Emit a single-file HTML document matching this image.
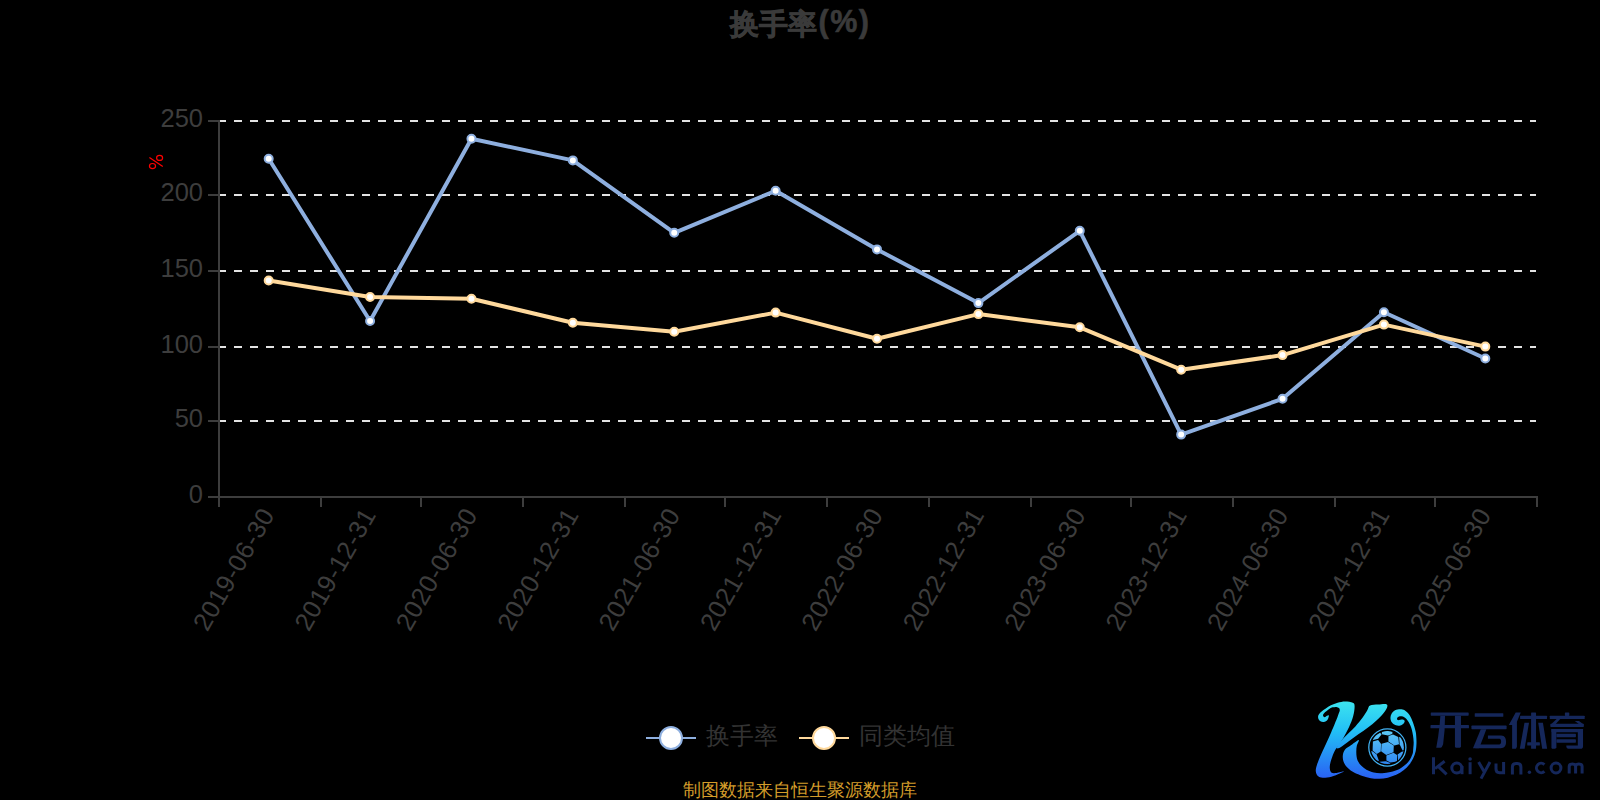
<!DOCTYPE html>
<html><head><meta charset="utf-8"><style>
html,body{margin:0;padding:0;background:#000;width:1600px;height:800px;overflow:hidden}
svg{display:block}
text{font-family:"Liberation Sans",sans-serif}
.yl{font-size:25.5px;fill:#3d3d3d;text-anchor:end;dominant-baseline:middle}
.xl{font-size:25.5px;letter-spacing:0.6px;fill:#3d3d3d;text-anchor:end;dominant-baseline:middle}
.lg{font-size:24px;fill:#333}
.tt{font-size:30.5px;font-weight:bold;fill:#3a3a3a;stroke:#3a3a3a;stroke-width:0.6px;text-anchor:middle}
.ft{font-size:18px;fill:#d39c2a;text-anchor:middle}
</style></head><body>
<svg width="1600" height="800" viewBox="0 0 1600 800">
<rect width="1600" height="800" fill="#000"/>
<line x1="218" y1="121" x2="1536" y2="121" stroke="#e3e3e3" stroke-width="2" stroke-dasharray="8 8"/>
<line x1="218" y1="195" x2="1536" y2="195" stroke="#e3e3e3" stroke-width="2" stroke-dasharray="8 8"/>
<line x1="218" y1="271" x2="1536" y2="271" stroke="#e3e3e3" stroke-width="2" stroke-dasharray="8 8"/>
<line x1="218" y1="347" x2="1536" y2="347" stroke="#e3e3e3" stroke-width="2" stroke-dasharray="8 8"/>
<line x1="218" y1="421" x2="1536" y2="421" stroke="#e3e3e3" stroke-width="2" stroke-dasharray="8 8"/>
<line x1="219" y1="120" x2="219" y2="498" stroke="#3d3d3d" stroke-width="2"/>
<line x1="208" y1="121" x2="219" y2="121" stroke="#3d3d3d" stroke-width="2"/>
<line x1="208" y1="195" x2="219" y2="195" stroke="#3d3d3d" stroke-width="2"/>
<line x1="208" y1="271" x2="219" y2="271" stroke="#3d3d3d" stroke-width="2"/>
<line x1="208" y1="347" x2="219" y2="347" stroke="#3d3d3d" stroke-width="2"/>
<line x1="208" y1="421" x2="219" y2="421" stroke="#3d3d3d" stroke-width="2"/>
<line x1="208" y1="497" x2="219" y2="497" stroke="#3d3d3d" stroke-width="2"/>
<line x1="218" y1="497" x2="1538" y2="497" stroke="#3d3d3d" stroke-width="2"/>
<line x1="219" y1="497" x2="219" y2="507" stroke="#3d3d3d" stroke-width="2"/>
<line x1="321" y1="497" x2="321" y2="507" stroke="#3d3d3d" stroke-width="2"/>
<line x1="421" y1="497" x2="421" y2="507" stroke="#3d3d3d" stroke-width="2"/>
<line x1="523" y1="497" x2="523" y2="507" stroke="#3d3d3d" stroke-width="2"/>
<line x1="625" y1="497" x2="625" y2="507" stroke="#3d3d3d" stroke-width="2"/>
<line x1="725" y1="497" x2="725" y2="507" stroke="#3d3d3d" stroke-width="2"/>
<line x1="827" y1="497" x2="827" y2="507" stroke="#3d3d3d" stroke-width="2"/>
<line x1="929" y1="497" x2="929" y2="507" stroke="#3d3d3d" stroke-width="2"/>
<line x1="1031" y1="497" x2="1031" y2="507" stroke="#3d3d3d" stroke-width="2"/>
<line x1="1131" y1="497" x2="1131" y2="507" stroke="#3d3d3d" stroke-width="2"/>
<line x1="1233" y1="497" x2="1233" y2="507" stroke="#3d3d3d" stroke-width="2"/>
<line x1="1335" y1="497" x2="1335" y2="507" stroke="#3d3d3d" stroke-width="2"/>
<line x1="1435" y1="497" x2="1435" y2="507" stroke="#3d3d3d" stroke-width="2"/>
<line x1="1537" y1="497" x2="1537" y2="507" stroke="#3d3d3d" stroke-width="2"/>
<text x="203" y="120" class="yl">250</text>
<text x="203" y="194" class="yl">200</text>
<text x="203" y="270" class="yl">150</text>
<text x="203" y="346" class="yl">100</text>
<text x="203" y="420" class="yl">50</text>
<text x="203" y="496" class="yl">0</text>
<g stroke="#f00" stroke-width="1.2" fill="none"><ellipse cx="159.6" cy="157.9" rx="3" ry="2.5"/><ellipse cx="152.5" cy="166.05" rx="3.05" ry="2.55"/><line x1="149.4" y1="157.5" x2="162.8" y2="166.6"/></g>
<text class="xl" transform="translate(269.69 511) rotate(-60)">2019-06-30</text>
<text class="xl" transform="translate(371.08 511) rotate(-60)">2019-12-31</text>
<text class="xl" transform="translate(472.46 511) rotate(-60)">2020-06-30</text>
<text class="xl" transform="translate(573.85 511) rotate(-60)">2020-12-31</text>
<text class="xl" transform="translate(675.23 511) rotate(-60)">2021-06-30</text>
<text class="xl" transform="translate(776.62 511) rotate(-60)">2021-12-31</text>
<text class="xl" transform="translate(878 511) rotate(-60)">2022-06-30</text>
<text class="xl" transform="translate(979.38 511) rotate(-60)">2022-12-31</text>
<text class="xl" transform="translate(1080.77 511) rotate(-60)">2023-06-30</text>
<text class="xl" transform="translate(1182.15 511) rotate(-60)">2023-12-31</text>
<text class="xl" transform="translate(1283.54 511) rotate(-60)">2024-06-30</text>
<text class="xl" transform="translate(1384.92 511) rotate(-60)">2024-12-31</text>
<text class="xl" transform="translate(1486.31 511) rotate(-60)">2025-06-30</text>
<polyline points="268.69,158.75 370.08,321 471.46,138.7 572.85,160.4 674.23,232.8 775.62,190.8 877,249.4 978.38,303.1 1079.77,230.8 1181.15,434.6 1282.54,398.8 1383.92,312.3 1485.31,358.5" fill="none" stroke="#8eafdf" stroke-width="4" stroke-linejoin="round"/><circle cx="268.69" cy="158.75" r="4" fill="#fff" stroke="#8eafdf" stroke-width="2"/><circle cx="370.08" cy="321" r="4" fill="#fff" stroke="#8eafdf" stroke-width="2"/><circle cx="471.46" cy="138.7" r="4" fill="#fff" stroke="#8eafdf" stroke-width="2"/><circle cx="572.85" cy="160.4" r="4" fill="#fff" stroke="#8eafdf" stroke-width="2"/><circle cx="674.23" cy="232.8" r="4" fill="#fff" stroke="#8eafdf" stroke-width="2"/><circle cx="775.62" cy="190.8" r="4" fill="#fff" stroke="#8eafdf" stroke-width="2"/><circle cx="877" cy="249.4" r="4" fill="#fff" stroke="#8eafdf" stroke-width="2"/><circle cx="978.38" cy="303.1" r="4" fill="#fff" stroke="#8eafdf" stroke-width="2"/><circle cx="1079.77" cy="230.8" r="4" fill="#fff" stroke="#8eafdf" stroke-width="2"/><circle cx="1181.15" cy="434.6" r="4" fill="#fff" stroke="#8eafdf" stroke-width="2"/><circle cx="1282.54" cy="398.8" r="4" fill="#fff" stroke="#8eafdf" stroke-width="2"/><circle cx="1383.92" cy="312.3" r="4" fill="#fff" stroke="#8eafdf" stroke-width="2"/><circle cx="1485.31" cy="358.5" r="4" fill="#fff" stroke="#8eafdf" stroke-width="2"/>
<polyline points="268.69,280.5 370.08,297 471.46,298.8 572.85,322.7 674.23,331.8 775.62,312.6 877,338.8 978.38,314.1 1079.77,327.3 1181.15,369.7 1282.54,355.1 1383.92,324.6 1485.31,346.6" fill="none" stroke="#ffd99c" stroke-width="4" stroke-linejoin="round"/><circle cx="268.69" cy="280.5" r="4" fill="#fff" stroke="#ffd99c" stroke-width="2"/><circle cx="370.08" cy="297" r="4" fill="#fff" stroke="#ffd99c" stroke-width="2"/><circle cx="471.46" cy="298.8" r="4" fill="#fff" stroke="#ffd99c" stroke-width="2"/><circle cx="572.85" cy="322.7" r="4" fill="#fff" stroke="#ffd99c" stroke-width="2"/><circle cx="674.23" cy="331.8" r="4" fill="#fff" stroke="#ffd99c" stroke-width="2"/><circle cx="775.62" cy="312.6" r="4" fill="#fff" stroke="#ffd99c" stroke-width="2"/><circle cx="877" cy="338.8" r="4" fill="#fff" stroke="#ffd99c" stroke-width="2"/><circle cx="978.38" cy="314.1" r="4" fill="#fff" stroke="#ffd99c" stroke-width="2"/><circle cx="1079.77" cy="327.3" r="4" fill="#fff" stroke="#ffd99c" stroke-width="2"/><circle cx="1181.15" cy="369.7" r="4" fill="#fff" stroke="#ffd99c" stroke-width="2"/><circle cx="1282.54" cy="355.1" r="4" fill="#fff" stroke="#ffd99c" stroke-width="2"/><circle cx="1383.92" cy="324.6" r="4" fill="#fff" stroke="#ffd99c" stroke-width="2"/><circle cx="1485.31" cy="346.6" r="4" fill="#fff" stroke="#ffd99c" stroke-width="2"/>
<line x1="646" y1="738" x2="696" y2="738" stroke="#8eafdf" stroke-width="2"/><circle cx="671" cy="738" r="11" fill="#fff" stroke="#8eafdf" stroke-width="2"/>
<text x="706" y="743.5" class="lg">换手率</text>
<line x1="799" y1="738" x2="849" y2="738" stroke="#ffd99c" stroke-width="2"/><circle cx="824" cy="738" r="11" fill="#fff" stroke="#ffd99c" stroke-width="2"/>
<text x="859" y="743.5" class="lg">同类均值</text>
<text x="800.5" y="33.5" class="tt"><tspan style="font-size:29px">换手率</tspan><tspan dy="-1.5" dx="1" style="letter-spacing:1.6px">(%)</tspan></text>
<text x="800" y="796" class="ft">制图数据来自恒生聚源数据库</text>

<defs>
<linearGradient id="kg" gradientUnits="userSpaceOnUse" x1="0" y1="40" x2="0" y2="750">
<stop offset="0" stop-color="#3ee6ee"/>
<stop offset="0.4" stop-color="#22bff6"/>
<stop offset="1" stop-color="#2a5ff3"/>
</linearGradient>
<linearGradient id="bgr" x1="0" y1="0" x2="0" y2="1">
<stop offset="0" stop-color="#62cbf7"/>
<stop offset="1" stop-color="#3287f2"/>
</linearGradient>
<clipPath id="ballclip"><circle cx="732.1" cy="466.7" r="147"/></clipPath>
<linearGradient id="bgr2" gradientUnits="userSpaceOnUse" x1="0" y1="316.7" x2="0" y2="616.7"><stop offset="0" stop-color="#5ccaf6"/><stop offset="1" stop-color="#2f86f3"/></linearGradient>
</defs>
<g transform="translate(1305 695) scale(0.11249)">
<path fill="url(#kg)" d="M441.0,102.0 C440.5,82.0 439.2,77.3 425.0,70.0 C410.8,62.7 378.5,58.0 356.0,58.0 C333.5,58.0 311.0,64.3 290.0,70.0 C269.0,75.7 247.5,83.7 230.0,92.0 C212.5,100.3 199.2,110.7 185.0,120.0 C170.8,129.3 156.0,138.0 145.0,148.0 C134.0,158.0 123.3,169.3 119.0,180.0 C114.7,190.7 116.0,203.0 119.0,212.0 C122.0,221.0 129.7,229.2 137.0,234.0 C144.3,238.8 154.2,241.5 163.0,241.0 C171.8,240.5 182.8,236.5 190.0,231.0 C197.2,225.5 202.3,216.2 206.0,208.0 C209.7,199.8 213.7,186.0 212.0,182.0 C210.3,178.0 202.0,181.5 196.0,184.0 C190.0,186.5 181.7,196.0 176.0,197.0 C170.3,198.0 164.2,194.2 162.0,190.0 C159.8,185.8 160.0,178.3 163.0,172.0 C166.0,165.7 171.8,159.5 180.0,152.0 C188.2,144.5 201.2,134.0 212.0,127.0 C222.8,120.0 233.8,113.5 245.0,110.0 C256.2,106.5 269.5,105.0 279.0,106.0 C288.5,107.0 297.0,110.8 302.0,116.0 C307.0,121.2 310.2,126.8 309.0,137.0 C307.8,147.2 299.7,163.8 295.0,177.0 C290.3,190.2 291.2,190.7 281.0,216.0 C270.8,241.3 249.7,292.8 234.0,329.0 C218.3,365.2 202.8,398.3 187.0,433.0 C171.2,467.7 152.5,505.5 139.0,537.0 C125.5,568.5 113.2,598.5 106.0,622.0 C98.8,645.5 94.5,661.5 96.0,678.0 C97.5,694.5 104.7,711.5 115.0,721.0 C125.3,730.5 138.2,734.2 158.0,735.0 C177.8,735.8 208.8,732.2 234.0,726.0 C259.2,719.8 290.2,706.0 309.0,698.0 C327.8,690.0 351.7,678.8 347.0,678.0 C342.3,677.2 299.8,691.3 281.0,693.0 C262.2,694.7 244.2,696.8 234.0,688.0 C223.8,679.2 220.0,659.0 220.0,640.0 C220.0,621.0 226.5,598.2 234.0,574.0 C241.5,549.8 253.5,517.0 265.0,495.0 C276.5,473.0 289.2,463.2 303.0,442.0 C316.8,420.8 333.2,394.2 348.0,368.0 C362.8,341.8 378.7,314.7 392.0,285.0 C405.3,255.3 419.8,220.5 428.0,190.0 C436.2,159.5 441.5,122.0 441.0,102.0 Z"/>
<path fill="url(#kg)" d="M578.0,93.0 C594.0,84.5 626.5,87.0 650.0,85.0 C673.5,83.0 705.5,77.5 719.0,81.0 C732.5,84.5 735.2,91.7 731.0,106.0 C726.8,120.3 710.3,146.7 694.0,167.0 C677.7,187.3 655.3,207.7 633.0,228.0 C610.7,248.3 586.5,268.7 560.0,289.0 C533.5,309.3 502.5,329.7 474.0,350.0 C445.5,370.3 417.5,390.7 389.0,411.0 C360.5,431.3 320.3,463.8 303.0,472.0 C285.7,480.2 280.8,472.2 285.0,460.0 C289.2,447.8 310.7,419.3 328.0,399.0 C345.3,378.7 368.7,358.3 389.0,338.0 C409.3,317.7 429.7,299.5 450.0,277.0 C470.3,254.5 493.7,226.5 511.0,203.0 C528.3,179.5 542.8,154.3 554.0,136.0 C565.2,117.7 562.0,101.5 578.0,93.0 Z"/>
<path fill="url(#kg)" d="M478.0,400.0 C469.7,399.2 431.3,430.8 411.0,445.0 C390.7,459.2 368.5,469.2 356.0,485.0 C343.5,500.8 337.7,520.8 336.0,540.0 C334.3,559.2 338.5,581.7 346.0,600.0 C353.5,618.3 366.0,635.0 381.0,650.0 C396.0,665.0 414.3,678.3 436.0,690.0 C457.7,701.7 486.0,711.7 511.0,720.0 C536.0,728.3 561.0,735.8 586.0,740.0 C611.0,744.2 636.0,745.8 661.0,745.0 C686.0,744.2 711.0,740.8 736.0,735.0 C761.0,729.2 787.7,720.8 811.0,710.0 C834.3,699.2 856.8,685.0 876.0,670.0 C895.2,655.0 911.8,637.5 926.0,620.0 C940.2,602.5 951.3,585.0 961.0,565.0 C970.7,545.0 979.0,522.5 984.0,500.0 C989.0,477.5 990.2,451.7 991.0,430.0 C991.8,408.3 990.3,388.0 989.0,370.0 C987.7,352.0 987.8,342.9 983.0,322.0 C978.2,301.1 969.0,268.4 960.0,244.5 C951.0,220.6 941.3,196.5 929.0,178.3 C916.7,160.2 899.8,144.3 886.2,135.6 C872.6,126.8 861.6,125.8 847.3,125.8 C833.0,125.8 813.6,128.8 800.6,135.6 C787.6,142.4 776.3,155.0 769.5,166.7 C762.7,178.4 759.1,192.6 759.8,205.6 C760.4,218.6 765.3,233.8 773.4,244.5 C781.5,255.2 796.1,265.2 808.4,269.7 C820.7,274.2 836.3,274.0 847.3,271.7 C858.3,269.4 868.0,262.6 874.5,256.1 C881.0,249.6 886.2,239.0 886.2,232.8 C886.2,226.7 881.0,221.1 874.5,219.2 C868.0,217.2 855.4,220.4 847.3,221.1 C839.2,221.8 830.8,224.4 825.9,223.1 C821.0,221.8 818.8,217.2 818.1,213.3 C817.5,209.4 819.1,203.4 822.0,199.7 C824.9,195.9 829.4,192.6 835.6,190.8 C841.8,189.1 851.2,188.0 859.0,189.2 C866.8,190.4 875.2,193.8 882.3,197.8 C889.4,201.8 895.3,206.2 901.8,213.3 C908.3,220.4 915.4,230.9 921.2,240.6 C927.0,250.3 931.9,260.0 936.8,271.7 C941.7,283.4 946.5,295.7 950.4,310.6 C954.3,325.5 957.5,342.9 960.1,361.1 C962.7,379.3 965.7,400.2 966.0,420.0 C966.3,439.8 963.7,462.5 962.0,480.0 C960.3,497.5 962.0,507.5 956.0,525.0 C950.0,542.5 937.7,568.3 926.0,585.0 C914.3,601.7 901.0,612.5 886.0,625.0 C871.0,637.5 856.8,650.0 836.0,660.0 C815.2,670.0 786.0,679.2 761.0,685.0 C736.0,690.8 711.0,694.2 686.0,695.0 C661.0,695.8 634.3,695.0 611.0,690.0 C587.7,685.0 564.3,675.0 546.0,665.0 C527.7,655.0 513.5,642.5 501.0,630.0 C488.5,617.5 478.0,603.3 471.0,590.0 C464.0,576.7 461.5,565.0 459.0,550.0 C456.5,535.0 455.7,516.7 456.0,500.0 C456.3,483.3 457.3,466.7 461.0,450.0 C464.7,433.3 486.3,400.8 478.0,400.0 Z"/>
<circle cx="732.1" cy="466.7" r="165" fill="none" stroke="#42b4f6" stroke-width="11"/>
<circle cx="732.1" cy="466.7" r="147" fill="#000"/>
<g clip-path="url(#ballclip)" fill="url(#bgr2)">
<polygon points="681.0,433.4 737.9,418.7 789.4,449.8 786.8,509.0 722.3,533.4 676.5,500.1"/>
<polygon points="742.3,364.5 782.3,352.0 829.0,373.4 835.7,437.8 794.8,449.8 741.4,414.3"/>
<polygon points="684.5,325.4 729.0,318.3 777.9,325.4 775.7,346.7 737.9,359.2 682.8,348.9"/>
<polygon points="595.6,402.3 613.4,364.5 667.6,334.3 680.1,351.2 649.9,389.4"/>
<polygon points="603.6,414.3 649.9,399.2 676.5,434.7 673.4,501.4 637.9,523.6 601.0,493.4"/>
<polygon points="585.0,497.0 603.6,501.4 636.5,528.1 657.0,585.0 638.3,595.6 588.5,537.8"/>
<polygon points="660.5,593.0 720.1,588.5 759.2,604.5 752.1,626.7 684.5,626.7"/>
<polygon points="723.6,538.7 786.8,513.0 817.9,534.3 817.9,590.3 760.1,601.0 723.6,581.4"/>
<polygon points="823.2,528.1 858.8,504.1 891.2,499.6 882.3,553.4 827.7,588.5"/>
<polygon points="836.5,374.3 862.3,378.7 891.2,431.2 892.6,489.8 867.7,493.4 841.0,437.8"/>
</g>
</g>
<g fill="#15275a"><rect x="1430.75" y="712.40" width="37.93" height="3.30" rx="0.6"/><rect x="1430.47" y="725.04" width="38.48" height="3.30" rx="0.6"/><polygon points="1440.37,715.70 1445.04,715.70 1444.60,729.99 1443.12,744.28 1441.74,747.31 1440.37,747.69 1436.25,747.69 1438.17,736.59 1439.65,724.49"/><polygon points="1454.94,715.70 1460.99,715.70 1460.99,746.48 1460.16,747.69 1455.76,747.69 1454.94,746.76"/><rect x="1474.73" y="713.22" width="28.59" height="3.57" rx="0.6"/><rect x="1471.43" y="725.59" width="35.18" height="3.57" rx="0.6"/><polygon points="1480.78,729.17 1486.38,729.17 1479.13,748.24 1472.97,748.24"/><path d="M1487.92,735.49 L1501.12,735.49 C1504.97,735.49 1506.06,738.79 1506.06,741.81 C1506.06,745.93 1504.42,748.24 1500.57,748.24 L1475.28,748.24 L1476.65,744.39 L1499.47,744.39 C1500.68,744.39 1501.12,743.18 1501.12,741.81 C1501.12,740.16 1500.68,738.79 1499.47,738.79 L1487.92,738.79 Z"/><polygon points="1515.70,712.40 1520.75,712.40 1516.91,721.74 1516.91,746.76 1515.97,748.79 1512.12,748.79 1512.12,725.04 1508.82,725.04"/><rect x="1520.09" y="715.70" width="26.94" height="3.30" rx="0.6"/><rect x="1531.09" y="712.40" width="4.95" height="36.39" rx="0.6"/><polygon points="1524.49,722.84 1529.00,722.84 1524.60,748.79 1519.82,748.79"/><polygon points="1538.24,722.84 1542.91,722.84 1547.14,748.79 1542.19,748.79"/><rect x="1527.24" y="742.36" width="12.64" height="3.13" rx="0.6"/><rect x="1564.90" y="712.40" width="4.40" height="3.57" rx="0.6"/><rect x="1549.78" y="715.70" width="34.91" height="3.30" rx="0.6"/><polygon points="1556.65,719.00 1560.23,719.00 1555.28,724.49 1550.88,724.49"/><polygon points="1574.79,721.08 1578.92,721.08 1583.76,724.49 1579.47,724.49"/><rect x="1550.33" y="723.83" width="33.53" height="3.13" rx="0.6"/><rect x="1551.43" y="728.89" width="31.61" height="3.30" rx="0.6"/><rect x="1556.38" y="733.84" width="19.52" height="3.30" rx="0.6"/><rect x="1556.38" y="739.34" width="19.52" height="3.30" rx="0.6"/><polygon points="1551.43,728.89 1556.38,728.89 1556.38,747.58 1555.28,748.79 1551.98,748.79 1551.43,747.86"/><path d="M1577.82,728.89 L1583.04,728.89 L1583.04,746.48 C1583.04,747.86 1581.94,748.79 1580.57,748.79 L1568.47,748.79 C1567.10,748.79 1566.27,747.86 1566.27,745.49 L1577.82,745.49 Z"/></g><g fill="none" stroke="#15275a" stroke-width="3">
<path d="M1433.5,757.2 V774.2 M1435,768.6 L1444.6,761.3 M1438.2,766.3 L1446.6,774.4"/>
<circle cx="1456.8" cy="768" r="5"/>
<path d="M1462,766 V774.2"/>
<path d="M1470.1,762.2 V774.2"/>
<path d="M1478.6,762 L1484.6,772.6 M1490,762 L1481,778.6"/>
<path d="M1496,763.6 V769 Q1496,772.7 1499.6,772.7 H1503.5 M1503.6,762 V774.2"/>
<path d="M1512.4,774.6 V767 Q1512.4,763.5 1516,763.5 H1517.3 Q1520.9,763.5 1520.9,767 V774.6"/>
<path d="M1544.4,764.6 A4.7,4.7 0 1 0 1544.4,771.4"/>
<circle cx="1556" cy="768" r="4.9"/>
<path d="M1569.2,773.4 V766.5 Q1569.2,763.9 1572.4,763.9 Q1575.6,763.9 1575.6,766.5 V773.4 M1575.6,766.5 Q1575.6,763.9 1578.8,763.9 Q1582.1,763.9 1582.1,766.5 V773.4"/>
</g>
<g fill="#15275a"><circle cx="1470.1" cy="759" r="1.8"/><circle cx="1529.4" cy="772.3" r="1.7"/></g>

</svg>
</body></html>
